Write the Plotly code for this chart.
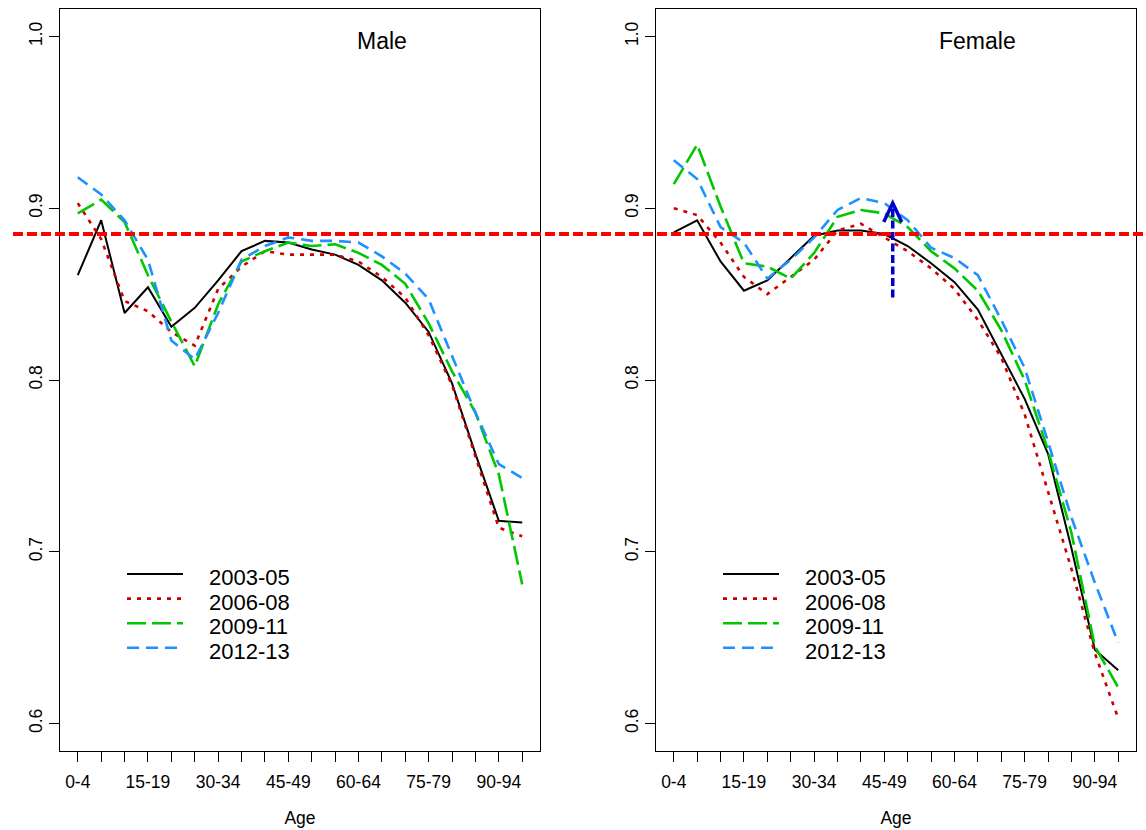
import plotly.graph_objects as go

# ---------------- data ----------------
age_groups = ["0-4", "5-9", "10-14", "15-19", "20-24", "25-29", "30-34", "35-39",
              "40-44", "45-49", "50-54", "55-59", "60-64", "65-69", "70-74",
              "75-79", "80-84", "85-89", "90-94", "95+"]
label_every = 3  # R drops overlapping labels: only every 3rd is shown

periods = ["2003-05", "2006-08", "2009-11", "2012-13"]

male_2003_05 = [0.861, 0.893, 0.839, 0.854, 0.831, 0.842, 0.858, 0.875, 0.881, 0.880,
                0.876, 0.873, 0.867, 0.858, 0.845, 0.828, 0.798, 0.757, 0.718, 0.717]
male_2006_08 = [0.903, 0.882, 0.846, 0.840, 0.828, 0.820, 0.853, 0.866, 0.875, 0.873,
                0.873, 0.873, 0.869, 0.860, 0.848, 0.826, 0.797, 0.755, 0.714, 0.709]
male_2009_11 = [0.897, 0.905, 0.892, 0.861, 0.834, 0.808, 0.844, 0.869, 0.875, 0.880,
                0.878, 0.879, 0.874, 0.867, 0.856, 0.833, 0.805, 0.781, 0.745, 0.681]
male_2012_13 = [0.918, 0.908, 0.893, 0.870, 0.823, 0.812, 0.839, 0.870, 0.878, 0.883,
                0.881, 0.881, 0.880, 0.872, 0.862, 0.847, 0.814, 0.781, 0.751, 0.743]

female_2003_05 = [0.886, 0.893, 0.869, 0.852, 0.858, 0.871, 0.884, 0.887, 0.887, 0.885,
                  0.878, 0.868, 0.857, 0.841, 0.815, 0.789, 0.757, 0.702, 0.643, 0.631]
female_2006_08 = [0.900, 0.896, 0.880, 0.860, 0.850, 0.860, 0.870, 0.887, 0.891, 0.883,
                  0.875, 0.865, 0.853, 0.835, 0.813, 0.780, 0.735, 0.690, 0.641, 0.603]
female_2009_11 = [0.914, 0.937, 0.901, 0.868, 0.866, 0.859, 0.874, 0.895, 0.899, 0.897,
                  0.889, 0.875, 0.865, 0.852, 0.829, 0.800, 0.759, 0.711, 0.645, 0.621]
female_2012_13 = [0.928, 0.917, 0.889, 0.880, 0.859, 0.870, 0.883, 0.899, 0.906, 0.903,
                  0.893, 0.877, 0.871, 0.861, 0.835, 0.807, 0.764, 0.720, 0.682, 0.647]

male_series = [male_2003_05, male_2006_08, male_2009_11, male_2012_13]
female_series = [female_2003_05, female_2006_08, female_2009_11, female_2012_13]
panel_titles = ["Male", "Female"]

reference_level = 0.885
arrow_x = 10.36
arrow_from = 0.848
arrow_to = 0.903

y_ticks = [0.6, 0.7, 0.8, 0.9, 1.0]
y_ticktext = ["0.6", "0.7", "0.8", "0.9", "1.0"]
y_lim = (0.6, 1.0)

# ---------------- styles ----------------
W, H = 1146, 830
FONT = "Liberation Sans, Arial, Helvetica, sans-serif"
colors = ["#000000", "#CD0000", "#00C800", "#1E90FF"]
dashes = ["solid", "4px,6px", "19px,6px", "12px,7px"]
widths = [2.0, 2.6, 2.6, 2.6]

n = len(age_groups)
xpos = list(range(1, n + 1))
pad_x = (n - 1) * 0.04
pad_y = (y_lim[1] - y_lim[0]) * 0.04
x_range = [1 - pad_x, n + pad_x]
y_range = [y_lim[0] - pad_y, y_lim[1] + pad_y]

x_ticktext = [lab if i % label_every == 0 else "" for i, lab in enumerate(age_groups)]

left_dom = [60 / W, 540 / W]
right_dom = [656 / W, 1136 / W]
y_dom = [1 - 751 / H, 1 - 9 / H]

fig = go.Figure()

for axn, series in (("", male_series), ("2", female_series)):
    for k, vals in enumerate(series):
        fig.add_trace(go.Scatter(
            x=xpos, y=vals, mode="lines", name=periods[k],
            line=dict(color=colors[k], dash=dashes[k], width=widths[k]),
            xaxis="x" + axn, yaxis="y" + axn, showlegend=False, hoverinfo="skip"))

# horizontal reference line across the whole device (overlay axes)
fig.add_trace(go.Scatter(
    x=[0, 1], y=[reference_level, reference_level], mode="lines",
    line=dict(color="#FF0000", width=4, dash="10px,4px"),
    xaxis="x3", yaxis="y3", showlegend=False, hoverinfo="skip"))

tickfont = dict(family=FONT, size=17.5, color="black")
common_x = dict(range=x_range, tickmode="array", tickvals=xpos, ticktext=x_ticktext,
                ticks="outside", ticklen=10, tickwidth=1.2, tickcolor="black",
                showline=True, mirror=True, linecolor="black", linewidth=1.3,
                showgrid=False, zeroline=False, tickfont=tickfont, tickangle=0,
                ticklabelstandoff=5,
                title=dict(text="Age", font=dict(family=FONT, size=17.5, color="black"),
                           standoff=20))
common_y = dict(range=y_range, tickmode="array", tickvals=y_ticks, ticktext=y_ticktext,
                ticks="outside", ticklen=10, tickwidth=1.2, tickcolor="black",
                showline=True, mirror=True, linecolor="black", linewidth=1.3,
                showgrid=False, zeroline=False, tickfont=tickfont, tickangle=-90,
                domain=y_dom)

shapes = []
annotations = []

# panel titles
for axn, title in (("", panel_titles[0]), ("2", panel_titles[1])):
    annotations.append(dict(text=title, x=14, y=y_lim[1], xref="x" + axn, yref="y" + axn,
                            showarrow=False, xanchor="center", yanchor="middle", yshift=-5,
                            font=dict(family=FONT, size=23, color="black")))

# legends (R style, drawn inside each panel)
for off in (0, 596):
    for k, name in enumerate(periods):
        ypx = 574 + k * 24.6
        shapes.append(dict(type="line", xref="paper", yref="paper",
                           x0=(127 + off) / W, x1=(183 + off) / W,
                           y0=1 - ypx / H, y1=1 - ypx / H,
                           line=dict(color=colors[k], dash=dashes[k], width=widths[k])))
        annotations.append(dict(text=name, xref="paper", yref="paper",
                                x=(207 + off) / W, y=1 - (ypx + 3.5) / H,
                                showarrow=False, xanchor="left", yanchor="middle",
                                font=dict(family=FONT, size=22, color="black")))

# dashed arrow in the female panel
shapes.append(dict(type="line", xref="x2", yref="y2", x0=arrow_x, x1=arrow_x,
                   y0=arrow_from, y1=arrow_to,
                   line=dict(color="#0000CD", width=3.5, dash="8px,3.5px")))
shapes.append(dict(type="path", xref="x2", yref="y2", xsizemode="pixel", ysizemode="pixel",
                   xanchor=arrow_x, yanchor=arrow_to,
                   path="M -9,-19 L 0,0 L 9,-19",
                   line=dict(color="#0000CD", width=3.5)))

fig.update_layout(
    width=W, height=H, margin=dict(l=0, r=0, t=0, b=0),
    paper_bgcolor="white", plot_bgcolor="rgba(0,0,0,0)",
    font=dict(family=FONT, color="black"),
    showlegend=False,
    xaxis=dict(domain=left_dom, anchor="y", **common_x),
    yaxis=dict(anchor="x", **common_y),
    xaxis2=dict(domain=right_dom, anchor="y2", **common_x),
    yaxis2=dict(anchor="x2", **common_y),
    xaxis3=dict(domain=[13 / W, 1], range=[0, 1], visible=False, anchor="y3", fixedrange=True),
    yaxis3=dict(domain=y_dom, range=y_range, visible=False, anchor="x3", fixedrange=True),
    shapes=shapes, annotations=annotations,
)

fig.write_html("out.html")
